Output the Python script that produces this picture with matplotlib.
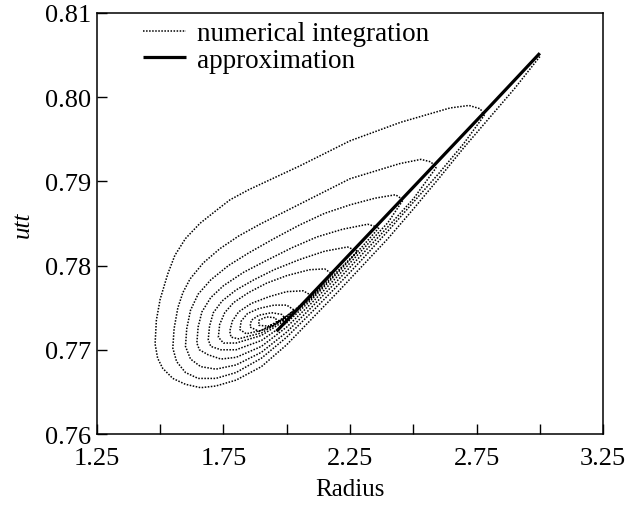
import numpy as np
import matplotlib
matplotlib.use('Agg')
import matplotlib.pyplot as plt

plt.rcParams['font.family'] = ['Liberation Serif', 'DejaVu Serif']

# numerical integration, read loop by loop off the figure (outer loop first)
loop1_x = [3.00, 2.90, 2.80, 2.70, 2.60, 2.50, 2.40, 2.30, 2.20, 2.10, 2.00, 1.90, 1.80, 1.72, 1.66,
           1.60, 1.55, 1.51, 1.49, 1.48, 1.485, 1.50, 1.53, 1.558, 1.60, 1.657, 1.72, 1.776, 1.85,
           1.914, 2.05, 2.25, 2.45, 2.645, 2.72, 2.765, 2.78]
loop1_y = [0.8048, 0.8010, 0.7975, 0.7940, 0.7903, 0.7867, 0.7832, 0.7800, 0.7768, 0.7737, 0.7706,
           0.7680, 0.7664, 0.7657, 0.7655, 0.7659, 0.7666, 0.7678, 0.7690, 0.7707, 0.7735, 0.7760,
           0.7790, 0.7812, 0.7832, 0.7850, 0.7865, 0.7878, 0.7890, 0.7899, 0.7918, 0.7948, 0.7970,
           0.7987, 0.7990, 0.7986, 0.7978]

loop2_x = [2.70, 2.60, 2.50, 2.40, 2.30, 2.20, 2.10, 2.00, 1.90, 1.80, 1.72, 1.65, 1.60, 1.565, 1.55,
           1.555, 1.57, 1.59, 1.618, 1.67, 1.736, 1.81, 1.894, 2.052, 2.25, 2.447, 2.53, 2.57, 2.59]
loop2_y = [0.7945, 0.7909, 0.7875, 0.7841, 0.7808, 0.7776, 0.7745, 0.7715, 0.7690, 0.7673, 0.7666,
           0.7666, 0.7673, 0.7686, 0.7702, 0.7725, 0.7750, 0.7768, 0.7784, 0.7803, 0.7820, 0.7835,
           0.7849, 0.7873, 0.7903, 0.7921, 0.7926, 0.7923, 0.7916]

loop3_x = [2.50, 2.40, 2.30, 2.20, 2.10, 2.00, 1.90, 1.80, 1.72, 1.66, 1.62, 1.60, 1.605, 1.62, 1.65,
           1.70, 1.77, 1.85, 1.95, 2.05, 2.15, 2.25, 2.35, 2.43, 2.46]
loop3_y = [0.7879, 0.7846, 0.7814, 0.7782, 0.7751, 0.7721, 0.7697, 0.7682, 0.7677, 0.7680, 0.7689,
           0.7704, 0.7725, 0.7747, 0.7766, 0.7783, 0.7800, 0.7815, 0.7832, 0.7848, 0.7862, 0.7872,
           0.7880, 0.7884, 0.7878]

loop4_x = [2.40, 2.30, 2.20, 2.10, 2.00, 1.90, 1.80, 1.74, 1.69, 1.655, 1.645, 1.65, 1.665, 1.70, 1.75,
           1.83, 1.92, 2.02, 2.12, 2.22, 2.32, 2.365]
loop4_y = [0.7851, 0.7819, 0.7787, 0.7756, 0.7727, 0.7704, 0.7691, 0.7689, 0.7694, 0.7700, 0.7708,
           0.7727, 0.7745, 0.7762, 0.7776, 0.7792, 0.7806, 0.7821, 0.7834, 0.7843, 0.7849, 0.7845]

loop5_x = [2.30, 2.20, 2.10, 2.00, 1.90, 1.80, 1.74, 1.70, 1.69, 1.695, 1.71, 1.745, 1.80, 1.87, 1.95,
           2.05, 2.15, 2.24, 2.28]
loop5_y = [0.7823, 0.7791, 0.7760, 0.7732, 0.7711, 0.7700, 0.7700, 0.7704, 0.7712, 0.7728, 0.7744,
           0.7758, 0.7771, 0.7783, 0.7795, 0.7807, 0.7817, 0.7822, 0.7817]

loop6_x = [2.20, 2.10, 2.00, 1.90, 1.80, 1.75, 1.73, 1.735, 1.755, 1.79, 1.85, 1.92, 2.00, 2.09, 2.15, 2.18]
loop6_y = [0.7793, 0.7762, 0.7736, 0.7717, 0.7708, 0.7708, 0.7715, 0.7730, 0.7744, 0.7756, 0.7768,
           0.7779, 0.7788, 0.7795, 0.7796, 0.7790]

loop7_x = [2.10, 2.00, 1.90, 1.81, 1.78, 1.775, 1.785, 1.81, 1.86, 1.93, 2.00, 2.065, 2.10]
loop7_y = [0.7763, 0.7738, 0.7720, 0.7713, 0.7715, 0.7722, 0.7734, 0.7745, 0.7755, 0.7763, 0.7769,
           0.7770, 0.7764]

loop8_x = [2.00, 1.90, 1.84, 1.815, 1.82, 1.845, 1.89, 1.95, 2.00, 2.03]
loop8_y = [0.7740, 0.7723, 0.7719, 0.7724, 0.7734, 0.7743, 0.7749, 0.7753, 0.7753, 0.7747]

loop9_x = [1.95, 1.89, 1.855, 1.86, 1.89, 1.94, 1.98, 1.995]
loop9_y = [0.7729, 0.7722, 0.7727, 0.7735, 0.7741, 0.7744, 0.7742, 0.7737]

loop10_x = [1.93, 1.89, 1.89, 1.92, 1.955, 1.965]
loop10_y = [0.7728, 0.7729, 0.7735, 0.7739, 0.7738, 0.7732]

# approximation
approx_x = [1.96, 2.20, 2.50, 2.80, 3.00]
approx_y = [0.7722, 0.7798, 0.7893, 0.7988, 0.8052]

x_ticks = [1.25, 1.5, 1.75, 2.0, 2.25, 2.5, 2.75, 3.0, 3.25]
x_labels = ['1.25', '', '1.75', '', '2.25', '', '2.75', '', '3.25']
y_ticks = [0.76, 0.77, 0.78, 0.79, 0.80, 0.81]
y_labels = ['0.76', '0.77', '0.78', '0.79', '0.80', '0.81']

####################################################################################################

num_x = np.concatenate([loop1_x, loop2_x, loop3_x, loop4_x, loop5_x,
                        loop6_x, loop7_x, loop8_x, loop9_x, loop10_x])
num_y = np.concatenate([loop1_y, loop2_y, loop3_y, loop4_y, loop5_y,
                        loop6_y, loop7_y, loop8_y, loop9_y, loop10_y])

figure = plt.figure(figsize=(6.25, 5.10), dpi=100)
axe = figure.add_axes([0.155, 0.147, 0.81, 0.826])

axe.plot(num_x, num_y, color='black', lw=1.1, linestyle=(0, (1, 1)), label='numerical integration')
axe.plot(approx_x, approx_y, color='black', lw=2.3, solid_capstyle='butt', label='approximation')

axe.set_xlim(1.25, 3.25)
axe.set_ylim(0.76, 0.81)
axe.set_xticks(x_ticks)
axe.set_xticklabels(x_labels)
axe.set_yticks(y_ticks)
axe.set_yticklabels(y_labels)
axe.tick_params(direction='in', length=7, width=1.0, labelsize=19)
axe.tick_params(axis='x', pad=9)
axe.tick_params(axis='y', pad=4)
for spine in axe.spines.values():
    spine.set_linewidth(1.1)

axe.set_xlabel('Radius', fontsize=18, labelpad=7)
axe.set_ylabel('utt', fontsize=18, style='italic', labelpad=8)

axe.legend(loc='upper left', bbox_to_anchor=(0.069, 1.005), frameon=False, fontsize=19.5,
           handlelength=1.6, handletextpad=0.4, labelspacing=0.05, borderaxespad=0.0)

figure.savefig('out.png', dpi=100)
